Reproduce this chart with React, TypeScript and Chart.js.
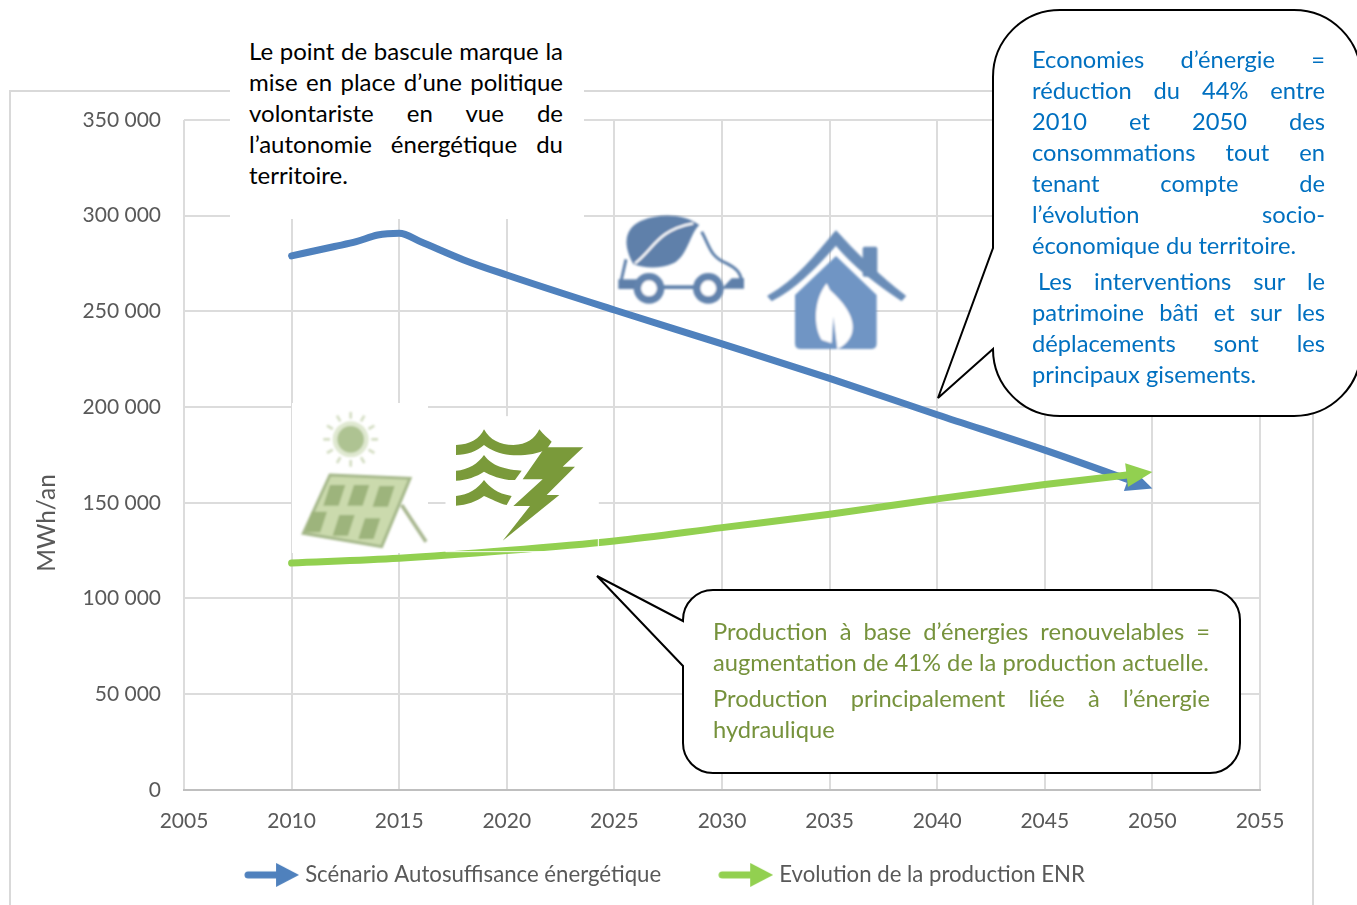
import React, { useEffect, useRef } from "react";
import { Chart, registerables } from "chart.js";
Chart.register(...registerables);

const FONT = "Lato";
const years = [2010, 2012, 2013, 2014, 2015, 2016, 2018, 2020, 2025, 2030, 2035, 2040, 2045, 2050];
const blueValues = [279000, 283900, 286400, 289900, 290800, 286400, 276900, 269000, 250700, 233000, 215000, 196000, 177500, 157500];
const greenYears = [2010, 2015, 2020, 2025, 2030, 2035, 2040, 2045, 2050];
const greenValues = [118500, 121000, 125000, 130000, 137000, 144000, 152000, 159500, 166000];
const seriesNames = ["Scénario Autosuffisance énergétique", "Evolution de la production ENR"];
const yTitle = "MWh/an";
const BLUE = "#4f81bd";
const GREEN = "#92d050";

const blackLines = [
  "Le point de bascule marque la",
  "mise en place d’une politique",
  "volontariste en vue de",
  "l’autonomie énergétique du",
  "territoire.",
];
const blueLines = [
  "Economies d’énergie =",
  "réduction du 44% entre",
  "2010 et 2050 des",
  "consommations tout en",
  "tenant compte de",
  "l’évolution socio-",
  "économique du territoire.",
];
const blueLines2 = [
  "Les interventions sur le",
  "patrimoine bâti et sur les",
  "déplacements sont les",
  "principaux gisements.",
];
const greenLines = [
  "Production à base d’énergies renouvelables =",
  "augmentation de 41% de la production actuelle.",
];
const greenLines2 = ["Production principalement liée à l’énergie", "hydraulique"];

function arrowCanvas(color: string) {
  const c = document.createElement("canvas");
  c.width = 55;
  c.height = 24;
  const g = c.getContext("2d")!;
  g.strokeStyle = color;
  g.fillStyle = color;
  g.lineWidth = 7;
  g.lineCap = "round";
  g.beginPath();
  g.moveTo(4, 12);
  g.lineTo(36, 12);
  g.stroke();
  g.beginPath();
  g.moveTo(32, 0);
  g.lineTo(55, 12);
  g.lineTo(32, 24);
  g.closePath();
  g.fill();
  return c;
}

const arrowPlugin = {
  id: "lineArrows",
  afterLayout(chart: any) {
    const s = chart.scales.x;
    s.bottom = s.top + 60;
    s.height = 60;
  },
  beforeDraw(chart: any) {
    const ctx = chart.ctx;
    ctx.save();
    ctx.strokeStyle = "#d9d9d9";
    ctx.lineWidth = 2;
    ctx.strokeRect(10, 91, 1303, 900);
    ctx.restore();
  },
  beforeDatasetsDraw(chart: any) {
    const ctx = chart.ctx;
    ctx.save();
    ctx.fillStyle = "#fff";
    ctx.fillRect(292, 403, 136, 150);
    ctx.fillRect(446, 417, 152, 135);
    ctx.restore();
  },
  beforeDatasetDraw(chart: any, args: any) {
    const pts = chart.getDatasetMeta(args.index).data;
    const tip = pts[pts.length - 1];
    const ctx = chart.ctx;
    ctx.save();
    ctx.beginPath();
    ctx.rect(0, 0, tip.x - 14, chart.height);
    ctx.clip();
  },
  afterDatasetDraw(chart: any, args: any) {
    const ctx = chart.ctx;
    ctx.restore();
    const pts = chart.getDatasetMeta(args.index).data;
    const tip = pts[pts.length - 1];
    const prev = pts[pts.length - 2];
    const a = Math.atan2(tip.y - prev.y, tip.x - prev.x);
    ctx.save();
    ctx.translate(tip.x, tip.y);
    ctx.rotate(a);
    ctx.fillStyle = chart.data.datasets[args.index].borderColor;
    ctx.beginPath();
    ctx.moveTo(0, 0);
    ctx.lineTo(-26, -12);
    ctx.lineTo(-26, 12);
    ctx.closePath();
    ctx.fill();
    ctx.restore();
  },
  afterDraw(chart: any) {
    const ctx = chart.ctx;
    ctx.save();
    ctx.translate(47, 523);
    ctx.rotate(-Math.PI / 2);
    ctx.font = `24.5px ${FONT}`;
    ctx.fillStyle = "#595959";
    ctx.textAlign = "center";
    ctx.textBaseline = "middle";
    ctx.fillText(yTitle, 0, 0);
    ctx.restore();
  },
};

function Lines({ lines, left, right, top, pitch, color, size, indent = 0 }: any) {
  return (
    <>
      {lines.map((t: string, i: number) => {
        const isLast = i === lines.length - 1;
        const lx = left + (i === 0 ? indent : 0);
        return (
          <div
            key={i}
            style={{
              position: "absolute",
              left: lx,
              width: right - lx,
              top: top + i * pitch - 16,
              height: 30,
              lineHeight: "30px",
              fontFamily: FONT,
              fontSize: size,
              color,
              whiteSpace: isLast ? "nowrap" : "normal",
              textAlign: "justify",
              textAlignLast: isLast ? "left" : "justify",
            }}
          >
            {t}
          </div>
        );
      })}
    </>
  );
}

function Icons() {
  const blur = { filter: "url(#soft)" };
  return (
    <>
      <svg style={{ position: "absolute", left: 280, top: 200 }} width={340} height={380} viewBox="0 0 1020 1140">
        <defs>
          <filter id="soft"><feGaussianBlur stdDeviation="3" /></filter>
        </defs>
        <rect x={498} y={650} width={457} height={405} fill="none" stroke="#fff" strokeWidth={3} />
        <g style={blur}>
          {[0, 30, 60, 90, 120, 150, 180, 210, 240, 270, 300, 330].map((d) => (
            <line key={d} x1={212} y1={718 - 62} x2={212} y2={718 - 82} stroke="#d3ddc2" strokeWidth={8} transform={`rotate(${d} 212 718)`} />
          ))}
          <circle cx={212} cy={718} r={54} fill="#dfe8d0" />
          <circle cx={212} cy={718} r={40} fill="#aec392" />
          <polygon points="150,825 390,835 305,1040 70,1000" fill="#cbdaad" stroke="#a5b88a" strokeWidth={9} />
          {[[150, 855], [222, 855], [298, 858], [95, 935], [178, 945], [255, 955]].map(([x, y], i) => (
            <rect key={i} width={46} height={62} fill="#9db47c" transform={`translate(${x} ${y}) skewX(-18)`} />
          ))}
          <line x1={365} y1={915} x2={438} y2={1025} stroke="#a9b791" strokeWidth={11} />
        </g>
        <g fill="#7a9a3a">
          <path d="M528 735 C570 735 600 715 612 688 C630 720 660 735 700 735 C740 735 765 715 778 688 C790 705 805 715 815 725 L800 748 C770 765 720 768 690 765 C660 762 630 750 612 735 C590 755 560 765 528 765 Z" />
          <path d="M528 812 C565 810 595 790 612 765 C630 790 660 808 725 812 L705 840 C670 842 630 825 612 815 C590 830 560 840 528 842 Z" />
          <path d="M528 888 C565 885 595 865 612 840 C630 862 650 880 695 888 L680 915 C660 912 630 895 612 888 C590 905 560 915 528 917 Z" />
          <path d="M795 742 L910 742 L848 800 L885 800 L800 885 L838 885 L668 1022 L750 918 L700 918 L788 838 L728 838 Z" />
        </g>
      </svg>
      <svg style={{ position: "absolute", left: 600, top: 200 }} width={320} height={170} viewBox="0 0 960 510">
        <g style={blur}>
          <path d="M100 192 C65 130 75 80 130 60 C180 40 250 40 298 75 C270 100 262 170 220 190 C180 208 130 205 100 192 Z" fill="#5f80aa" />
          <path d="M105 190 C160 150 170 90 280 70" fill="none" stroke="#fff" strokeWidth={7} />
          <path d="M78 178 L64 240" fill="none" stroke="#5f80aa" strokeWidth={9} />
          <rect x={55} y={238} width={60} height={29} fill="#5f80aa" />
          <path d="M305 95 C330 140 330 170 380 190 C420 210 420 225 425 240" fill="none" stroke="#5f80aa" strokeWidth={9} />
          <path d="M365 266 L432 266 L432 235 L395 235 Z" fill="#5f80aa" />
          <rect x={140} y={256} width={190} height={11} fill="#5f80aa" />
          <circle cx={147} cy={265} r={35} fill="#fff" stroke="#6283ad" strokeWidth={22} />
          <circle cx={325} cy={265} r={35} fill="#fff" stroke="#6283ad" strokeWidth={22} />
          <rect x={788} y={140} width={44} height={90} rx={6} fill="#6a8db8" />
          <path d="M503 288 C590 240 650 160 708 92 C760 150 840 230 917 288 L905 302 C840 260 760 200 708 136 C650 200 590 265 515 302 Z" fill="#6a8db8" stroke="#6a8db8" strokeWidth={3} strokeLinejoin="round" />
          <path d="M708 168 L830 285 L830 430 Q830 447 815 447 L600 447 Q585 447 585 430 L585 285 Z" fill="#7095c4" />
          <path d="M680 250 C640 300 640 380 665 420 L695 430 L700 350 L712 447 L725 440 C770 410 780 350 690 270 Z" fill="#fff" />
        </g>
      </svg>
    </>
  );
}

export default function App() {
  const ref = useRef<HTMLCanvasElement>(null);
  useEffect(() => {
    document.body.style.margin = "0";
    document.body.style.overflow = "hidden";
    const markers = [arrowCanvas(BLUE), arrowCanvas(GREEN)];
    const toPts = (xs: number[], ys: number[]) => xs.map((x, i) => ({ x, y: ys[i] }));
    const chart = new Chart(ref.current!, {
      type: "line",
      data: {
        datasets: [
          { label: seriesNames[0], data: toPts(years, blueValues), borderColor: BLUE, backgroundColor: BLUE, borderWidth: 7, pointRadius: 0, cubicInterpolationMode: "monotone", borderCapStyle: "round", borderJoinStyle: "round", order: 1 },
          { label: seriesNames[1], data: toPts(greenYears, greenValues), borderColor: GREEN, backgroundColor: GREEN, borderWidth: 7, pointRadius: 0, cubicInterpolationMode: "monotone", borderCapStyle: "round", order: 0 },
        ],
      } as any,
      options: {
        responsive: false,
        animation: false,
        parsing: false,
        layout: { padding: { left: 74, right: 97, top: 120, bottom: 9 } },
        scales: {
          x: {
            type: "linear",
            min: 2005,
            max: 2055,
            afterFit: (s: any) => { s.height = 12; },
            grid: { color: "#dcdcdc", lineWidth: 2, drawTicks: false },
            border: { color: "#bfbfbf", width: 2 },
            ticks: { stepSize: 5, padding: 19, color: "#595959", font: { family: FONT, size: 21 }, maxRotation: 0, callback: (v: any) => String(v) },
          },
          y: {
            min: 0,
            max: 350000,
            afterFit: (s: any) => { s.width = 110; },
            grid: { color: "#dcdcdc", lineWidth: 2, drawTicks: false },
            border: { display: false },
            ticks: { stepSize: 50000, padding: 23, color: "#595959", font: { family: FONT, size: 21 }, callback: (v: any) => String(v).replace(/\B(?=(\d{3})+$)/g, " ") },
          },
        },
        plugins: {
          tooltip: { enabled: false },
          legend: {
            position: "bottom",
            labels: {
              usePointStyle: true,
              pointStyleWidth: 45,
              boxHeight: 24,
              padding: 62,
              color: "#595959",
              font: { family: FONT, size: 22.2 },
              sort: (a: any, b: any) => a.datasetIndex - b.datasetIndex,
              generateLabels: (c: any) =>
                (Chart.defaults.plugins.legend.labels.generateLabels as any)(c).map((l: any) => ({ ...l, pointStyle: markers[l.datasetIndex] })),
            },
          },
        },
      } as any,
      plugins: [arrowPlugin],
    });
    return () => chart.destroy();
  }, []);

  return (
    <div style={{ position: "absolute", left: 0, top: 0, width: 1357, height: 905, overflow: "hidden", background: "#fff" }}>
      <canvas ref={ref} width={1357} height={905} style={{ position: "absolute", left: 0, top: 0, display: "block" }} />
      <Icons />
      <div style={{ position: "absolute", left: 230, top: 30, width: 354, height: 189, background: "#fff" }} />
      <Lines lines={blackLines} left={249} right={563} top={52} pitch={31} color="#000" size={24} />
      <svg style={{ position: "absolute", left: 0, top: 0 }} width={1357} height={905}>
        <path
          d="M993 77 A67 67 0 0 1 1060 10 L1294 10 A67 67 0 0 1 1361 77 L1361 349 A67 67 0 0 1 1294 416 L1060 416 A67 67 0 0 1 993 349 L938 398 L993 248 Z"
          fill="#fff" stroke="#000" strokeWidth={2}
        />
        <path
          d="M683 620 A30 30 0 0 1 713 590 L1210 590 A30 30 0 0 1 1240 620 L1240 743 A30 30 0 0 1 1210 773 L713 773 A30 30 0 0 1 683 743 L683 666 L597 576 L683 621 Z"
          fill="#fff" stroke="#000" strokeWidth={2}
        />
      </svg>
      <Lines lines={blueLines} left={1032} right={1325} top={60} pitch={31} color="#0070c0" size={23.7} />
      <Lines lines={blueLines2} left={1032} right={1325} top={282} pitch={31} color="#0070c0" size={23.7} indent={6} />
      <Lines lines={greenLines} left={713} right={1210} top={632} pitch={31} color="#76923c" size={23.7} />
      <Lines lines={greenLines2} left={713} right={1210} top={699} pitch={31} color="#76923c" size={23.7} />
    </div>
  );
}
